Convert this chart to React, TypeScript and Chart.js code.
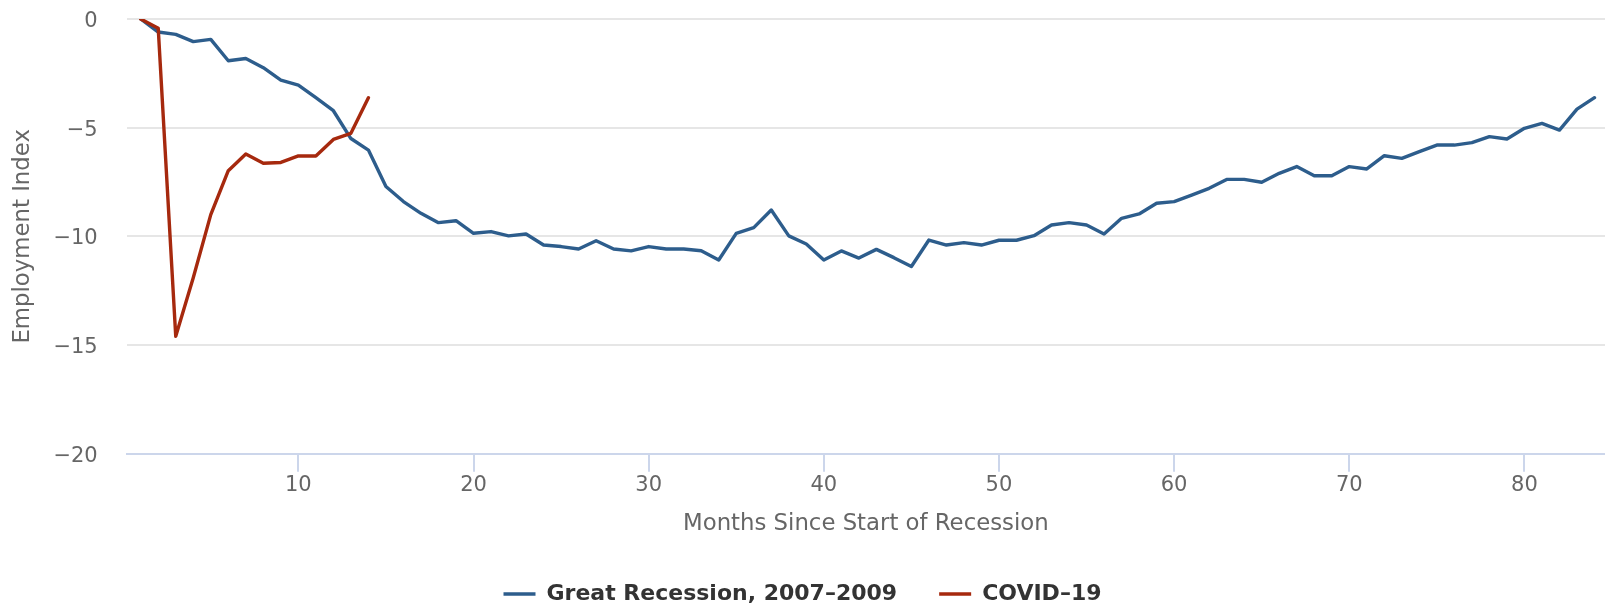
import React, { useEffect, useRef } from "react";
import { Chart, registerables } from "chart.js";

Chart.register(...registerables);

const months = [
  1, 2, 3, 4, 5, 6, 7, 8, 9, 10, 11, 12, 13, 14, 15, 16, 17, 18, 19, 20,
  21, 22, 23, 24, 25, 26, 27, 28, 29, 30, 31, 32, 33, 34, 35, 36, 37, 38, 39, 40,
  41, 42, 43, 44, 45, 46, 47, 48, 49, 50, 51, 52, 53, 54, 55, 56, 57, 58, 59, 60,
  61, 62, 63, 64, 65, 66, 67, 68, 69, 70, 71, 72, 73, 74, 75, 76, 77, 78, 79, 80,
  81, 82, 83, 84,
];

const greatRecession = [
  0, -0.6, -0.71, -1.04, -0.94, -1.92, -1.82, -2.24, -2.81, -3.04,
  -3.62, -4.22, -5.5, -6.03, -7.71, -8.4, -8.94, -9.37, -9.28, -9.86,
  -9.78, -9.98, -9.89, -10.4, -10.47, -10.58, -10.2, -10.58, -10.67, -10.47,
  -10.58, -10.58, -10.66, -11.09, -9.86, -9.6, -8.79, -9.98, -10.35, -11.09,
  -10.67, -11.0, -10.6, -10.98, -11.39, -10.17, -10.4, -10.29, -10.4, -10.18,
  -10.18, -9.97, -9.48, -9.37, -9.48, -9.89, -9.17, -8.97, -8.48, -8.4,
  -8.1, -7.79, -7.38, -7.38, -7.51, -7.1, -6.79, -7.21, -7.21, -6.79,
  -6.9, -6.29, -6.41, -6.1, -5.8, -5.8, -5.69, -5.41, -5.52, -5.03,
  -4.8, -5.11, -4.15, -3.62,
];

const covid = [
  0, -0.43, -14.6, -11.9, -9.0, -6.98, -6.21, -6.64, -6.6, -6.3,
  -6.3, -5.54, -5.26, -3.62,
];

const seriesNames = ["Great Recession, 2007\u20132009", "COVID\u201319"];

const xTickValues = [10, 20, 30, 40, 50, 60, 70, 80];
const yTickValues = [-20, -15, -10, -5, 0];
const yTickLabels = ["\u221220", "\u221215", "\u221210", "\u22125", "0"];

const xTitle = "Months Since Start of Recession";
const yTitle = "Employment Index";

const FONT = "'DejaVu Sans', sans-serif";

export default function App() {
  const ref = useRef<HTMLCanvasElement | null>(null);

  useEffect(() => {
    const canvas = ref.current;
    if (!canvas) return;
    const toPoints = (vals: number[]) => vals.map((v, i) => ({ x: months[i], y: v }));
    const chart = new Chart(canvas, {
      type: "line",
      data: {
        datasets: [
          {
            label: seriesNames[0],
            data: toPoints(greatRecession),
            borderColor: "#2d5d8c",
            backgroundColor: "#2d5d8c",
            borderWidth: 3.4,
            pointRadius: 0,
            tension: 0,
            order: 1,
            borderJoinStyle: "round",
            borderCapStyle: "round",
          },
          {
            label: seriesNames[1],
            data: toPoints(covid),
            borderColor: "#a6290e",
            backgroundColor: "#a6290e",
            borderWidth: 3.4,
            pointRadius: 0,
            tension: 0,
            order: 0,
            borderJoinStyle: "round",
            borderCapStyle: "round",
          },
        ],
      },
      options: {
        responsive: false,
        animation: false,
        events: [],
        layout: { padding: { top: 19, left: 0, right: 0, bottom: -9 } },
        plugins: {
          tooltip: { enabled: false },
          legend: {
            position: "bottom",
            align: "center",
            labels: {
              usePointStyle: true,
              pointStyle: "line",
              pointStyleWidth: 32,
              padding: 42,
              color: "#333333",
              font: { family: FONT, size: 22, weight: "bold" },
              sort: (a: any, b: any) => a.datasetIndex - b.datasetIndex,
            },
          },
        },
        scales: {
          x: {
            type: "linear",
            min: 0.2,
            max: 84.6,
            afterBuildTicks: (scale: any) => {
              scale.ticks = xTickValues.map((v) => ({ value: v }));
            },
            afterFit: (scale: any) => {
              scale.height = 87.3;
            },
            grid: {
              drawOnChartArea: false,
              drawTicks: true,
              tickLength: 18,
              color: "#ccd6eb",
              lineWidth: 2,
            },
            border: { display: true, color: "#ccd6eb", width: 2 },
            ticks: {
              padding: 1,
              maxRotation: 0,
              autoSkip: false,
              color: "#666666",
              font: { family: FONT, size: 21 },
              callback: (v: any) => String(v),
            },
            title: {
              display: true,
              text: xTitle,
              color: "#666666",
              font: { family: FONT, size: 22.8 },
              padding: { top: 0, bottom: 3 },
            },
          },
          y: {
            type: "linear",
            min: -20,
            max: 0,
            afterBuildTicks: (scale: any) => {
              scale.ticks = yTickValues.map((v) => ({ value: v }));
            },
            afterFit: (scale: any) => {
              scale.width = 126.7;
              scale.paddingTop = 0;
              scale.paddingBottom = 0;
            },
            grid: {
              drawTicks: false,
              color: "#e6e6e6",
              lineWidth: 2,
            },
            border: { display: false },
            ticks: {
              padding: 29,
              labelOffset: 2.5,
              color: "#666666",
              font: { family: FONT, size: 21 },
              callback: (v: any) => {
                const i = yTickValues.indexOf(Number(v));
                return i >= 0 ? yTickLabels[i] : "";
              },
            },
            title: {
              display: true,
              text: yTitle,
              color: "#666666",
              font: { family: FONT, size: 22.8 },
              padding: { top: 9.6, bottom: 0 },
            },
          },
        },
      },
    } as any);
    return () => chart.destroy();
  }, []);

  return (
    <div style={{ position: "absolute", left: 0, top: 0, width: 1605, height: 606, background: "#ffffff" }}>
      <canvas ref={ref} width={1605} height={606} style={{ display: "block" }} />
    </div>
  );
}
